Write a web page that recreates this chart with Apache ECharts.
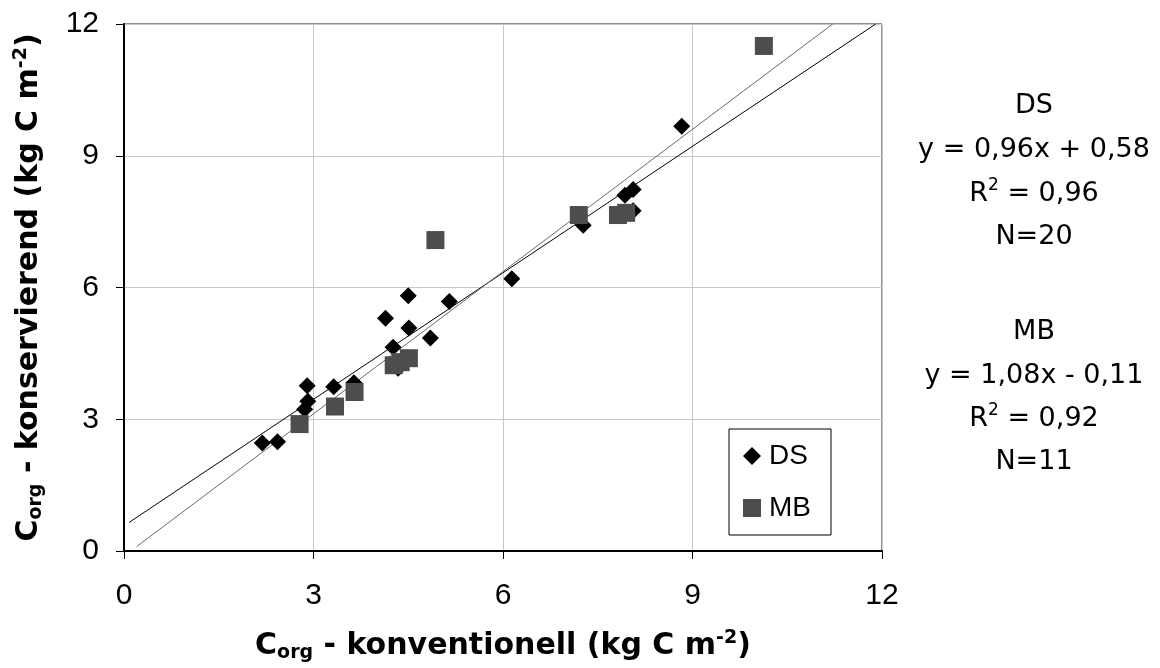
<!DOCTYPE html>
<html>
<head>
<meta charset="utf-8">
<script src="https://cdn.jsdelivr.net/npm/echarts@6/dist/echarts.min.js"></script>
<style>
html,body{margin:0;padding:0;background:#fff;}
#chart{width:1160px;height:668px;}
</style>
</head>
<body>
<div id="chart"></div>
<script>
// ---- data ----
const xTicks = [0, 3, 6, 9, 12];
const yTicks = [0, 3, 6, 9, 12];

const dsX = [2.19, 2.43, 2.86, 2.91, 2.90, 3.32, 3.64, 4.14, 4.26, 4.34, 4.50, 4.51, 4.85, 5.15, 6.14, 7.27, 7.93, 8.06, 8.06, 8.83];
const dsY = [2.46, 2.49, 3.23, 3.41, 3.76, 3.74, 3.83, 5.30, 4.64, 4.16, 5.81, 5.08, 4.85, 5.68, 6.20, 7.42, 8.10, 8.23, 7.75, 9.67];

const mbX = [2.78, 3.34, 3.65, 4.27, 4.38, 4.51, 4.93, 7.20, 7.82, 7.95, 10.13];
const mbY = [2.89, 3.29, 3.62, 4.23, 4.30, 4.39, 7.08, 7.65, 7.65, 7.70, 11.50];

// regression line end points (as drawn in the picture)
const dsLineX = [0.08, 11.9];
const dsLineY = [0.65, 12.0];
const mbLineX = [0.2, 11.22];
const mbLineY = [0.1, 12.0];

const dsStats = ['DS', 'y = 0,96x + 0,58', '0,96', 'N=20'];
const mbStats = ['MB', 'y = 1,08x - 0,11', '0,92', 'N=11'];

// ---- build ----
const zip = (a, b) => a.map((v, i) => [v, b[i]]);
const FONT = '"DejaVu Sans", "Liberation Sans", Arial, sans-serif';
const ARIAL = '"Liberation Sans", Arial, sans-serif';

const titleRich = {
  a: { fontSize: 30, fontWeight: 'bold', fontFamily: FONT, color: '#000', lineHeight: 34 },
  sub: { fontSize: 19, fontWeight: 'bold', fontFamily: FONT, color: '#000', lineHeight: 34, padding: [14, 0, 0, 0] },
  sup: { fontSize: 19, fontWeight: 'bold', fontFamily: FONT, color: '#000', lineHeight: 34, padding: [0, 0, 16, 0] }
};

const chart = echarts.init(document.getElementById('chart'), null, { renderer: 'canvas' });

function statBlock(lines, ys) {
  const cx = 1034;
  const baseStyle = { fontSize: 27, fontFamily: FONT, fill: '#000', align: 'center', verticalAlign: 'middle' };
  return [
    { type: 'text', x: cx, y: ys[0], style: Object.assign({}, baseStyle, { text: lines[0] }) },
    { type: 'text', x: cx, y: ys[1], style: Object.assign({}, baseStyle, { text: lines[1] }) },
    { type: 'text', x: cx, y: ys[2], style: Object.assign({}, baseStyle, {
        text: '{r|R}{s|2}{r| = ' + lines[2] + '}',
        rich: {
          r: { fontSize: 27, fontFamily: FONT, fill: '#000', lineHeight: 32 },
          s: { fontSize: 17, fontFamily: FONT, fill: '#000', lineHeight: 32, padding: [0, 0, 16, 0] }
        }
      }) },
    { type: 'text', x: cx, y: ys[3], style: Object.assign({}, baseStyle, { text: lines[3] }) }
  ];
}

const axisCommon = {
  type: 'value',
  min: 0,
  max: 12,
  interval: 3,
  axisLine: { show: true, onZero: false, lineStyle: { color: '#000', width: 2 } },
  axisTick: { show: true, inside: false, length: 8, lineStyle: { color: '#000', width: 1 } },
  splitLine: { show: true, lineStyle: { color: '#c8c8c8', width: 1 } },
  nameLocation: 'middle'
};

const option = {
  backgroundColor: '#fff',
  animation: false,
  grid: { left: 124, right: 278, top: 24, bottom: 117, show: true, borderColor: '#222', borderWidth: 1,
    containLabel: false, outerBoundsMode: 'none' },
  xAxis: Object.assign({}, axisCommon, {
    axisLabel: { fontSize: 30, fontFamily: ARIAL, color: '#000', margin: 30,
      formatter: v => xTicks.includes(v) ? String(v) : '' },
    name: '{a|C}{sub|org}{a| - konventionell (kg C m}{sup|-2}{a|)}',
    nameGap: 78,
    nameTextStyle: { rich: titleRich }
  }),
  yAxis: Object.assign({}, axisCommon, {
    axisLabel: { fontSize: 30, fontFamily: ARIAL, color: '#000', margin: 25,
      formatter: v => yTicks.includes(v) ? String(v) : '' },
    name: '{a|C}{sub|org}{a| - konservierend (kg C m}{sup|-2}{a|)}',
    nameRotate: 90,
    nameGap: 78,
    nameTextStyle: { rich: titleRich }
  }),
  legend: {
    left: 729,
    top: 429,
    orient: 'vertical',
    backgroundColor: '#fff',
    borderColor: '#000',
    borderWidth: 1,
    padding: [12, 20, 12, 14],
    itemGap: 22,
    itemWidth: 18,
    itemHeight: 18,
    textStyle: { fontSize: 28, fontFamily: ARIAL, color: '#000', lineHeight: 30, padding: [0, 0, 0, 3] },
    data: [{ name: 'DS', icon: 'diamond' }, { name: 'MB', icon: 'rect' }]
  },
  graphic: statBlock(dsStats, [106, 150, 194, 237]).concat(statBlock(mbStats, [332, 376, 419, 462])),
  series: [
    {
      name: 'DS fit', type: 'line', data: zip(dsLineX, dsLineY), showSymbol: false, symbol: 'none',
      lineStyle: { color: '#000', width: 1 }, z: 2, silent: true
    },
    {
      name: 'MB fit', type: 'line', data: zip(mbLineX, mbLineY), showSymbol: false, symbol: 'none',
      lineStyle: { color: '#6a6a6a', width: 1 }, z: 2, silent: true
    },
    {
      name: 'DS', type: 'scatter', data: zip(dsX, dsY), symbol: 'diamond', symbolSize: 17,
      itemStyle: { color: '#000', opacity: 1 }, z: 3
    },
    {
      name: 'MB', type: 'scatter', data: zip(mbX, mbY), symbol: 'rect', symbolSize: 18,
      itemStyle: { color: '#4d4d4d', opacity: 1 }, z: 4
    }
  ]
};
chart.setOption(option);
</script>
</body>
</html>
